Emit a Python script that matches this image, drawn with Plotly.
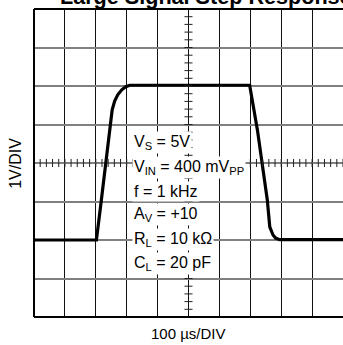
import plotly.graph_objects as go

# Output voltage of the step response (time in microseconds, volts)
time_us = [0, 202, 218, 245, 253, 261, 271, 284, 297, 310,
           698, 723, 755, 763, 768, 773.5, 782, 795, 1000]
vout_v = [-2.0, -2.0, -0.96, 0.86, 1.38, 1.61, 1.77, 1.90, 1.98, 2.02,
          2.02, 0.86, -0.96, -1.66, -1.78, -1.87, -1.95, -1.99, -1.99]

# Test-condition legend lines
conditions = [
    "V<sub>S</sub> = 5V",
    "V<sub>IN</sub> = 400 mV<sub>PP</sub>",
    "f = 1 kHz",
    "A<sub>V</sub> = +10",
    "R<sub>L</sub> = 10 kΩ",
    "C<sub>L</sub> = 20 pF",
]
condition_y = [0.53, -0.11, -0.73, -1.33, -1.98, -2.62]

title_text = "Large Signal Step Response"
x_label = "100 µs/DIV"
y_label = "1V/DIV"

X_MIN, X_MAX, X_DIV = 0, 1000, 100
Y_MIN, Y_MAX, Y_DIV = -4, 4, 1
FONT = "Liberation Sans, Arial, sans-serif"

fig = go.Figure()
fig.add_trace(go.Scatter(
    x=time_us, y=vout_v, mode="lines",
    line=dict(color="black", width=3.2),
    hoverinfo="skip", showlegend=False,
))

shapes = []
# minor ticks along the centre graticule lines (5 per division)
sub = X_DIV / 5
n = int((X_MAX - X_MIN) / sub)
for i in range(n + 1):
    xv = X_MIN + i * sub
    shapes.append(dict(type="line", xref="x", yref="y", x0=xv, x1=xv,
                       y0=-0.105, y1=0.105, line=dict(color="#222", width=1),
                       layer="above"))
suby = Y_DIV / 5
m = int((Y_MAX - Y_MIN) / suby)
for i in range(m + 1):
    yv = Y_MIN + i * suby
    shapes.append(dict(type="line", xref="x", yref="y", x0=487, x1=513,
                       y0=yv, y1=yv, line=dict(color="#222", width=1),
                       layer="above"))
# frame: left, bottom and top edges
shapes += [
    dict(type="line", xref="paper", yref="paper", x0=0, x1=0, y0=0, y1=1,
         line=dict(color="black", width=2), layer="above"),
    dict(type="line", xref="paper", yref="paper", x0=0, x1=1, y0=0, y1=0,
         line=dict(color="black", width=2), layer="above"),
    dict(type="line", xref="paper", yref="paper", x0=0, x1=1, y0=1, y1=1,
         line=dict(color="black", width=2), layer="above"),
]

annotations = []
for txt, yv in zip(conditions, condition_y):
    annotations.append(dict(
        x=318, y=yv, xref="x", yref="y", text=txt, showarrow=False,
        xanchor="left", yanchor="middle", bgcolor="white", borderpad=1,
        font=dict(family=FONT, size=16, color="black"),
    ))
annotations.append(dict(
    x=0.079, y=1.04, xref="paper", yref="paper", text="<b>" + title_text + "</b>",
    showarrow=False, xanchor="left", yanchor="middle",
    font=dict(family=FONT, size=21.6, color="black"),
))
annotations.append(dict(
    x=0.5, y=-0.053, xref="paper", yref="paper", text=x_label,
    showarrow=False, xanchor="center", yanchor="middle",
    font=dict(family=FONT, size=15, color="black"),
))
annotations.append(dict(
    x=-0.062, y=0.5, xref="paper", yref="paper", text=y_label,
    showarrow=False, xanchor="center", yanchor="middle", textangle=-90,
    font=dict(family=FONT, size=16, color="black"),
))

fig.update_layout(
    width=343, height=345,
    margin=dict(l=34, r=0, t=9, b=28),
    paper_bgcolor="white", plot_bgcolor="white",
    shapes=shapes, annotations=annotations,
    xaxis=dict(range=[X_MIN, X_MAX], dtick=X_DIV, tick0=0, showgrid=True,
               gridcolor="#111", gridwidth=1, zeroline=False,
               showticklabels=False, ticks="", showline=False, fixedrange=True),
    yaxis=dict(range=[Y_MIN, Y_MAX], dtick=Y_DIV, tick0=0, showgrid=True,
               gridcolor="#808080", gridwidth=1.6, zeroline=False,
               showticklabels=False, ticks="", showline=False, fixedrange=True),
)

fig.write_html("out.html", config={"displayModeBar": False})
